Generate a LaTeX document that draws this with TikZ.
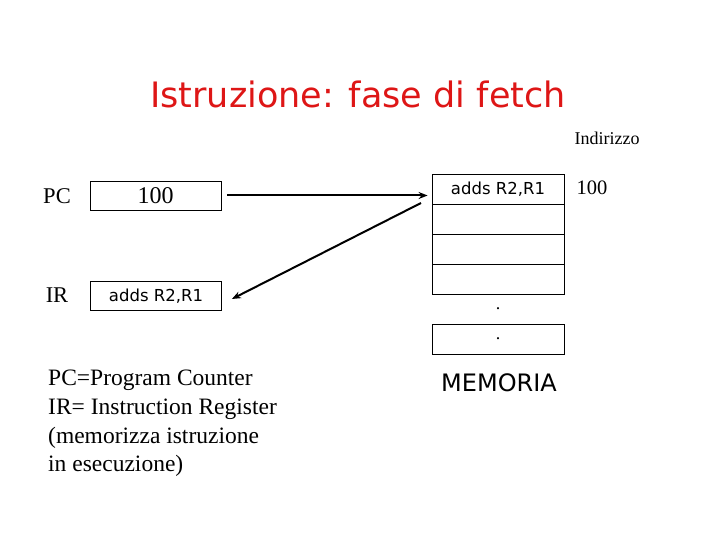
\documentclass[tikz,border=0pt]{standalone}
\usepackage{fontspec}
\setmainfont{Liberation Serif}
\newfontfamily\comicf{DejaVu Sans}
\usetikzlibrary{arrows.meta}
\definecolor{titlered}{RGB}{222,22,22}
\tikzset{
  reg/.style={draw, line width=0.8pt, minimum width=131pt, minimum height=29pt, inner sep=0pt},
  cell/.style={draw, line width=0.8pt, minimum width=132pt, minimum height=30pt, inner sep=0pt},
  lbl/.style={font=\fontsize{22.5}{26}\selectfont, inner sep=0pt},
  conn/.style={line width=2pt, -{Stealth[length=9pt,width=7pt]}}
}
\begin{document}
\begin{tikzpicture}[x=1pt,y=-1pt]
\useasboundingbox (0,0) rectangle (720,540);
\node[text=titlered, font=\comicf\fontsize{35}{40}\selectfont, inner sep=0pt] (title) at (358,94) {Istruzione: fase di fetch};
\node[font=\fontsize{18}{21}\selectfont, inner sep=0pt] (ind) at (607,138) {Indirizzo};
% registers
\node[lbl] (pcl) at (57,196) {PC};
\node[reg] (pc) at (155.5,195.5) {\fontsize{24}{28}\selectfont 100};
\node[lbl] (irl) at (57,295) {IR};
\node[reg] (ir) at (156,296) {\comicf\fontsize{16.5}{20}\selectfont adds R2,R1};
% memory
\node[cell] (m1) at (498,189) {\comicf\fontsize{16.5}{20}\selectfont adds R2,R1};
\node[cell] (m2) at (498,219) {};
\node[cell] (m3) at (498,249) {};
\node[cell] (m4) at (498,279) {};
\node[inner sep=0pt, font=\fontsize{18}{21}\selectfont] (dot1) at (498,309) {.};
\node[cell] (m5) at (498,339) {\fontsize{18}{21}\selectfont .};
\node[font=\fontsize{20.5}{24}\selectfont, inner sep=0pt] (addr) at (592,188) {100};
\node[font=\comicf\fontsize{24}{28}\selectfont, inner sep=0pt] (mem) at (499,383) {MEMORIA};
% connectors
\coordinate (a1) at ([xshift=6pt]pc.east);
\coordinate (a2) at ([xshift=-4pt]m1.west);
\draw[conn] (a1) -- (a1 -| a2);
\coordinate (b0) at (421,203);
\draw[conn] (b0) -- ([xshift=10pt,yshift=-3pt]ir.east);
% legend
\node[anchor=north west, align=left, font=\fontsize{23.5}{28.7}\selectfont, inner sep=0pt] (legend) at (48,370) {PC=Program Counter\\IR= Instruction Register\\(memorizza istruzione\\in esecuzione)};
\end{tikzpicture}
\end{document}
